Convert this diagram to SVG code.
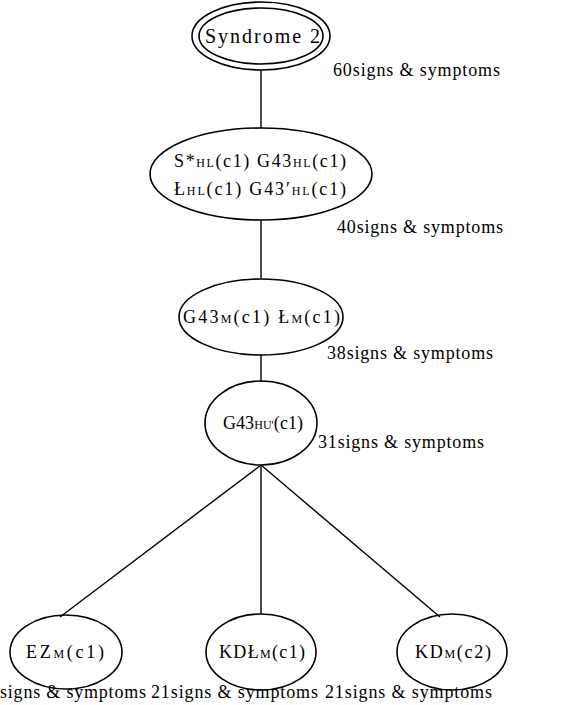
<svg xmlns="http://www.w3.org/2000/svg" width="580" height="705" viewBox="0 0 580 705">
<style>
.bg{fill:#ffffff}
.node{fill:none;stroke:#000;stroke-width:1.6}
.edge{stroke:#000;stroke-width:1.4;fill:none}
.t{font-family:"Liberation Serif","DejaVu Serif",serif;font-size:18px;fill:#000}
.big{font-size:20px}
.sub{font-size:12px}
</style>
<rect class="bg" x="0" y="0" width="580" height="705"/>
<g id="connectors">
<line class="edge" x1="261" y1="70" x2="261" y2="128"/>
<line class="edge" x1="261" y1="220" x2="261" y2="278"/>
<line class="edge" x1="261" y1="355" x2="261" y2="382"/>
<line class="edge" x1="261" y1="465" x2="60" y2="617"/>
<line class="edge" x1="261" y1="465" x2="261" y2="614"/>
<line class="edge" x1="261" y1="465" x2="440" y2="617"/>
</g>
<g id="syndrome2">
<ellipse class="node" cx="261" cy="36" rx="69" ry="34"/>
<ellipse class="node" cx="261" cy="36" rx="62" ry="28"/>
<text class="t big" x="205" y="43" textLength="115" lengthAdjust="spacing">Syndrome 2</text>
<text class="t" x="333" y="76" textLength="167" lengthAdjust="spacing">60signs &amp; symptoms</text>
</g>
<g id="nodeHL">
<ellipse class="node" cx="261" cy="174" rx="111" ry="46"/>
<text class="t" x="174" y="167" textLength="172" lengthAdjust="spacing">S*<tspan class="sub">HL</tspan>(c1) G43<tspan class="sub">HL</tspan>(c1)</text>
<text class="t" x="174" y="195" textLength="172" lengthAdjust="spacing">Ł<tspan class="sub">HL</tspan>(c1) G43′<tspan class="sub">HL</tspan>(c1)</text>
<text class="t" x="337" y="233" textLength="166" lengthAdjust="spacing">40signs &amp; symptoms</text>
</g>
<g id="nodeM">
<ellipse class="node" cx="261" cy="317" rx="82" ry="38"/>
<text class="t" x="183" y="323" textLength="157" lengthAdjust="spacing">G43<tspan class="sub">M</tspan>(c1) Ł<tspan class="sub">M</tspan>(c1)</text>
<text class="t" x="327" y="359" textLength="166" lengthAdjust="spacing">38signs &amp; symptoms</text>
</g>
<g id="nodeHU">
<ellipse class="node" cx="261" cy="423" rx="56" ry="42"/>
<text class="t" x="223" y="429" textLength="80" lengthAdjust="spacing">G43<tspan class="sub">HU'</tspan>(c1)</text>
<text class="t" x="318" y="448" textLength="166" lengthAdjust="spacing">31signs &amp; symptoms</text>
</g>
<g id="nodeEZ">
<ellipse class="node" cx="66" cy="652" rx="56" ry="37"/>
<text class="t" x="26" y="658" textLength="78" lengthAdjust="spacing">EZ<tspan class="sub">M</tspan>(c1)</text>
<text class="t" x="0" y="698" textLength="146" lengthAdjust="spacing">signs &amp; symptoms</text>
</g>
<g id="nodeKDL">
<ellipse class="node" cx="261" cy="652" rx="55" ry="38"/>
<text class="t" x="219" y="658" textLength="86" lengthAdjust="spacing">KDŁ<tspan class="sub">M</tspan>(c1)</text>
<text class="t" x="151" y="698" textLength="167" lengthAdjust="spacing">21signs &amp; symptoms</text>
</g>
<g id="nodeKD">
<ellipse class="node" cx="452" cy="652" rx="55" ry="38"/>
<text class="t" x="415" y="658" textLength="76" lengthAdjust="spacing">KD<tspan class="sub">M</tspan>(c2)</text>
<text class="t" x="325" y="698" textLength="167" lengthAdjust="spacing">21signs &amp; symptoms</text>
</g>
</svg>
